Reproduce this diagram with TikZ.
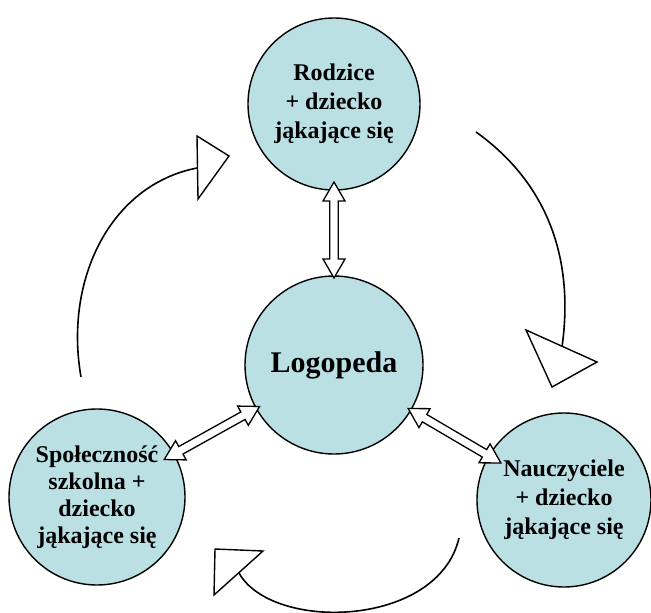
\documentclass[tikz,border=0pt]{standalone}
\usepackage{fontspec}
\setmainfont{Liberation Serif}
\usetikzlibrary{calc}
\definecolor{circfill}{RGB}{187,224,228}
\tikzset{
  bubble/.style={circle, draw=black, line width=1.4pt, fill=circfill, inner sep=0pt,
    align=center, font=\bfseries\fontsize{24}{29}\selectfont},
  blockarrow/.style={draw=black, fill=white, line width=1.3pt, line join=miter},
  cyclearc/.style={draw=black, line width=1.6pt},
  openhead/.style={draw=black, fill=white, line width=1.4pt, line join=miter},
}
\newcommand\dblarrow[2]{%
  \path let \p1=(#1), \p2=(#2), \n1={atan2(\y2-\y1,\x2-\x1)},
    \n2={veclen(\x2-\x1,\y2-\y1)} in \pgfextra{\xdef\dbang{\n1}\xdef\dblen{\n2}};
  \pgfmathsetmacro\dblen{\dblen}%
  \pgfmathsetmacro\dbb{\dblen-19}%
  \draw[blockarrow, shift={(#1)}, rotate=\dbang]
    (0pt,0pt) -- (19pt,11pt) -- (19pt,4.3pt) -- (\dbb pt,4.3pt) -- (\dbb pt,11pt)
    -- (\dblen pt,0pt) -- (\dbb pt,-11pt) -- (\dbb pt,-4.3pt) -- (19pt,-4.3pt)
    -- (19pt,-11pt) -- cycle;
}
\begin{document}
\begin{tikzpicture}[x=1pt,y=-1pt]
\useasboundingbox (0,0) rectangle (651,613);

% cycle arcs
\coordinate (a1s) at (476,132);
\coordinate (a1e) at (562,347);
\draw[cyclearc] (a1s) .. controls (550,185) and (574,262) .. (a1e);
\draw[openhead] (526,330) -- (597,362) -- (552,387) -- cycle;

\coordinate (a2s) at (459,538);
\coordinate (a2e) at (239,573);
\draw[cyclearc] (a2s) .. controls (438,628) and (272,632) .. (a2e);
\draw[openhead] (263,551) -- (214,595) -- (215,549) -- cycle;

\coordinate (a3s) at (81,377);
\coordinate (a3e) at (197,168);
\draw[cyclearc] (a3s) .. controls (64,280) and (110,185) .. (a3e);
\draw[openhead] (197,136) -- (198,199) -- (229,156) -- cycle;

% circles
\node[bubble, minimum size=172pt] (top) at (334,104) {Rodzice\\+ dziecko\\jąkające się};
\node[bubble, minimum size=178pt, font=\bfseries\fontsize{30}{36}\selectfont] (logo) at (334,365) {Logopeda};
\node[bubble, minimum size=176pt, font=\bfseries\fontsize{24}{27}\selectfont] (sp) at (97,497) {Społeczność\\szkolna +\\dziecko\\jąkające się};
\node[bubble, minimum size=174pt] (nau) at (564,500) {Nauczyciele\\+ dziecko\\jąkające się};

% double block arrows
\coordinate (vA) at ($(top.center)!78pt!(logo.center)$);
\coordinate (vB) at ($(logo.center)!87pt!(top.center)$);
\coordinate (lA) at ($(sp.center)!77pt!(logo.center)$);
\coordinate (lB) at ($(logo.center)!85pt!(sp.center)$);
\coordinate (rA) at ($(logo.center)!86pt!(nau.center)$);
\coordinate (rB) at ($(nau.center)!73pt!(logo.center)$);
\dblarrow{vA}{vB}
\dblarrow{lA}{lB}
\dblarrow{rA}{rB}
\end{tikzpicture}
\end{document}
